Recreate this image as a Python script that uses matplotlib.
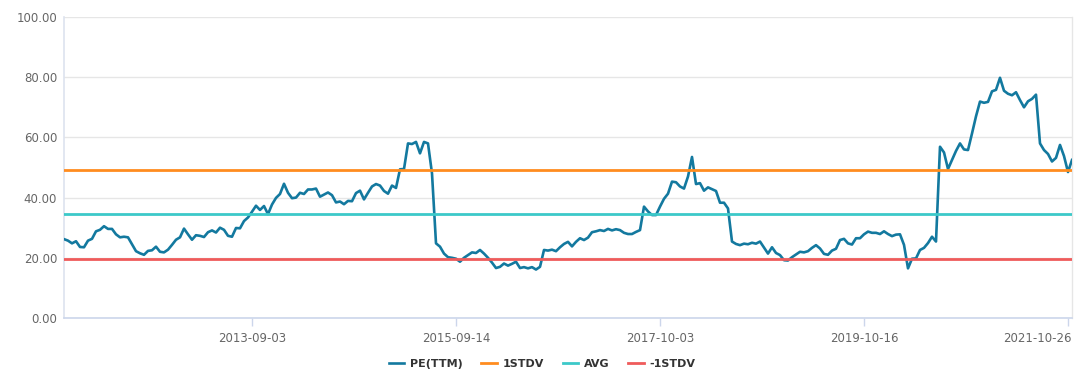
import matplotlib
matplotlib.use("Agg")
import matplotlib.pyplot as plt
import matplotlib.transforms as mtransforms
import numpy as np

# PE(TTM) series, equally spaced observations (category axis)
pe_ttm = [
    26.2, 25.7, 24.8, 25.5, 23.6, 23.5, 25.7, 26.3, 28.8, 29.3,
    30.5, 29.6, 29.6, 27.8, 26.8, 27.0, 26.8, 24.5, 22.2, 21.5,
    21.0, 22.3, 22.5, 23.7, 22.0, 21.8, 22.7, 24.3, 26.0, 26.8,
    29.7, 27.8, 26.0, 27.5, 27.3, 26.9, 28.5, 29.1, 28.4, 30.0,
    29.3, 27.3, 27.0, 29.9, 29.8, 32.2, 33.4, 35.3, 37.3, 35.9,
    37.2, 34.5, 37.7, 39.9, 41.2, 44.6, 41.6, 39.8, 40.0, 41.6,
    41.2, 42.7, 42.7, 43.0, 40.3, 41.0, 41.7, 40.8, 38.4, 38.7,
    37.8, 38.9, 38.8, 41.5, 42.3, 39.4, 41.6, 43.7, 44.5, 44.0,
    42.2, 41.3, 44.0, 43.2, 49.4, 49.5, 58.0, 57.8, 58.5, 54.7,
    58.5, 58.0, 48.0, 24.8, 23.7, 21.4, 20.2, 20.0, 19.7, 18.7,
    20.0, 20.9, 21.8, 21.6, 22.6, 21.4, 20.0, 18.4, 16.6, 17.0,
    18.1, 17.4, 18.0, 18.7, 16.6, 16.9, 16.5, 16.9, 16.1, 17.0,
    22.6, 22.4, 22.7, 22.2, 23.5, 24.6, 25.3, 23.8, 25.3, 26.5,
    25.9, 26.7, 28.5, 28.8, 29.2, 28.9, 29.6, 29.1, 29.5, 29.2,
    28.3, 27.9, 27.9, 28.6, 29.2, 37.0, 35.4, 34.2, 34.2, 37.0,
    39.6, 41.3, 45.3, 45.1, 43.7, 43.0, 47.0, 53.5, 44.5, 44.8,
    42.3, 43.4, 42.8, 42.2, 38.3, 38.3, 36.4, 25.4, 24.6, 24.2,
    24.7, 24.5, 25.0, 24.7, 25.4, 23.4, 21.4, 23.5, 21.6, 20.9,
    19.2, 19.1, 20.2, 21.1, 22.0, 21.8, 22.2, 23.3, 24.2, 23.1,
    21.3, 21.0, 22.4, 23.0, 25.9, 26.3, 24.8, 24.4, 26.5, 26.5,
    27.8, 28.7, 28.3, 28.3, 27.9, 28.8, 27.9, 27.2, 27.7, 27.8,
    24.3, 16.5, 19.7, 19.8, 22.6, 23.3, 24.9, 27.0, 25.4, 56.9,
    55.0, 49.5, 52.5, 55.5, 58.0, 56.0, 55.8, 61.3, 67.0, 71.9,
    71.5, 71.8, 75.3, 75.8, 79.8, 75.5, 74.5, 74.0, 75.0, 72.4,
    70.0, 72.0, 72.8, 74.2, 58.0, 55.8, 54.5, 52.0, 53.2, 57.5,
    53.8, 48.5, 52.5,
]
avg_value = 34.4
std_value = 14.8

tick_index = [47, 98, 149, 200, 251]
tick_labels = ["2013-09-03", "2015-09-14", "2017-10-03", "2019-10-16", "2021-10-26"]
y_ticks = [0, 20, 40, 60, 80, 100]

series_names = ["PE(TTM)", "1STDV", "AVG", "-1STDV"]
colors = ["#13799f", "#ff8c1f", "#3cc9c9", "#ef5b5b"]

fig = plt.figure(figsize=(10.8, 3.81), dpi=100)
ax = fig.add_axes([64 / 1080, 1 - 318 / 381, (1072 - 64) / 1080, (318 - 17) / 381])

x = np.arange(len(pe_ttm))
ax.plot(x, pe_ttm, color=colors[0], lw=1.9, label=series_names[0], zorder=3,
        solid_joinstyle="round")
ax.axhline(avg_value + std_value, color=colors[1], lw=2, label=series_names[1], zorder=4)
ax.axhline(avg_value, color=colors[2], lw=2, label=series_names[2], zorder=4)
ax.axhline(avg_value - std_value, color=colors[3], lw=2, label=series_names[3], zorder=4)

ax.set_xlim(0, len(pe_ttm) - 1)
ax.set_ylim(0, 100)
ax.set_yticks(y_ticks)
ax.set_yticklabels([f"{v:.2f}" for v in y_ticks])
ax.set_xticks(tick_index)
ax.set_xticklabels(tick_labels)

ax.grid(axis="y", color="#e6e6e6", lw=1, zorder=0)
ax.set_axisbelow(True)
ax.spines["top"].set_visible(False)
ax.spines["right"].set_color("#e6e6e6")
ax.spines["right"].set_linewidth(1)
ax.spines["left"].set_color("#dde3ef")
ax.spines["bottom"].set_color("#ccd6eb")
ax.spines["left"].set_linewidth(1.2)
ax.spines["bottom"].set_linewidth(1.2)
ax.tick_params(axis="y", length=0, pad=5, labelsize=8.5, labelcolor="#666666")
ax.tick_params(axis="x", length=6, width=1, color="#ccd6eb", pad=4,
               labelsize=8.5, labelcolor="#666666")

# last label kept inside the figure, as in the reference
last = ax.get_xticklabels()[-1]
last.set_horizontalalignment("right")
last.set_transform(last.get_transform() +
                   mtransforms.ScaledTranslation(4 / 100, 0, fig.dpi_scale_trans))

leg = fig.legend(loc="center", bbox_to_anchor=(0.502, 1 - 364 / 381), ncol=4,
                 frameon=False, handlelength=1.4, columnspacing=1.7,
                 handletextpad=0.5, prop={"size": 8, "weight": "bold"})
for t in leg.get_texts():
    t.set_color("#333333")

fig.savefig("out.png", dpi=100)
